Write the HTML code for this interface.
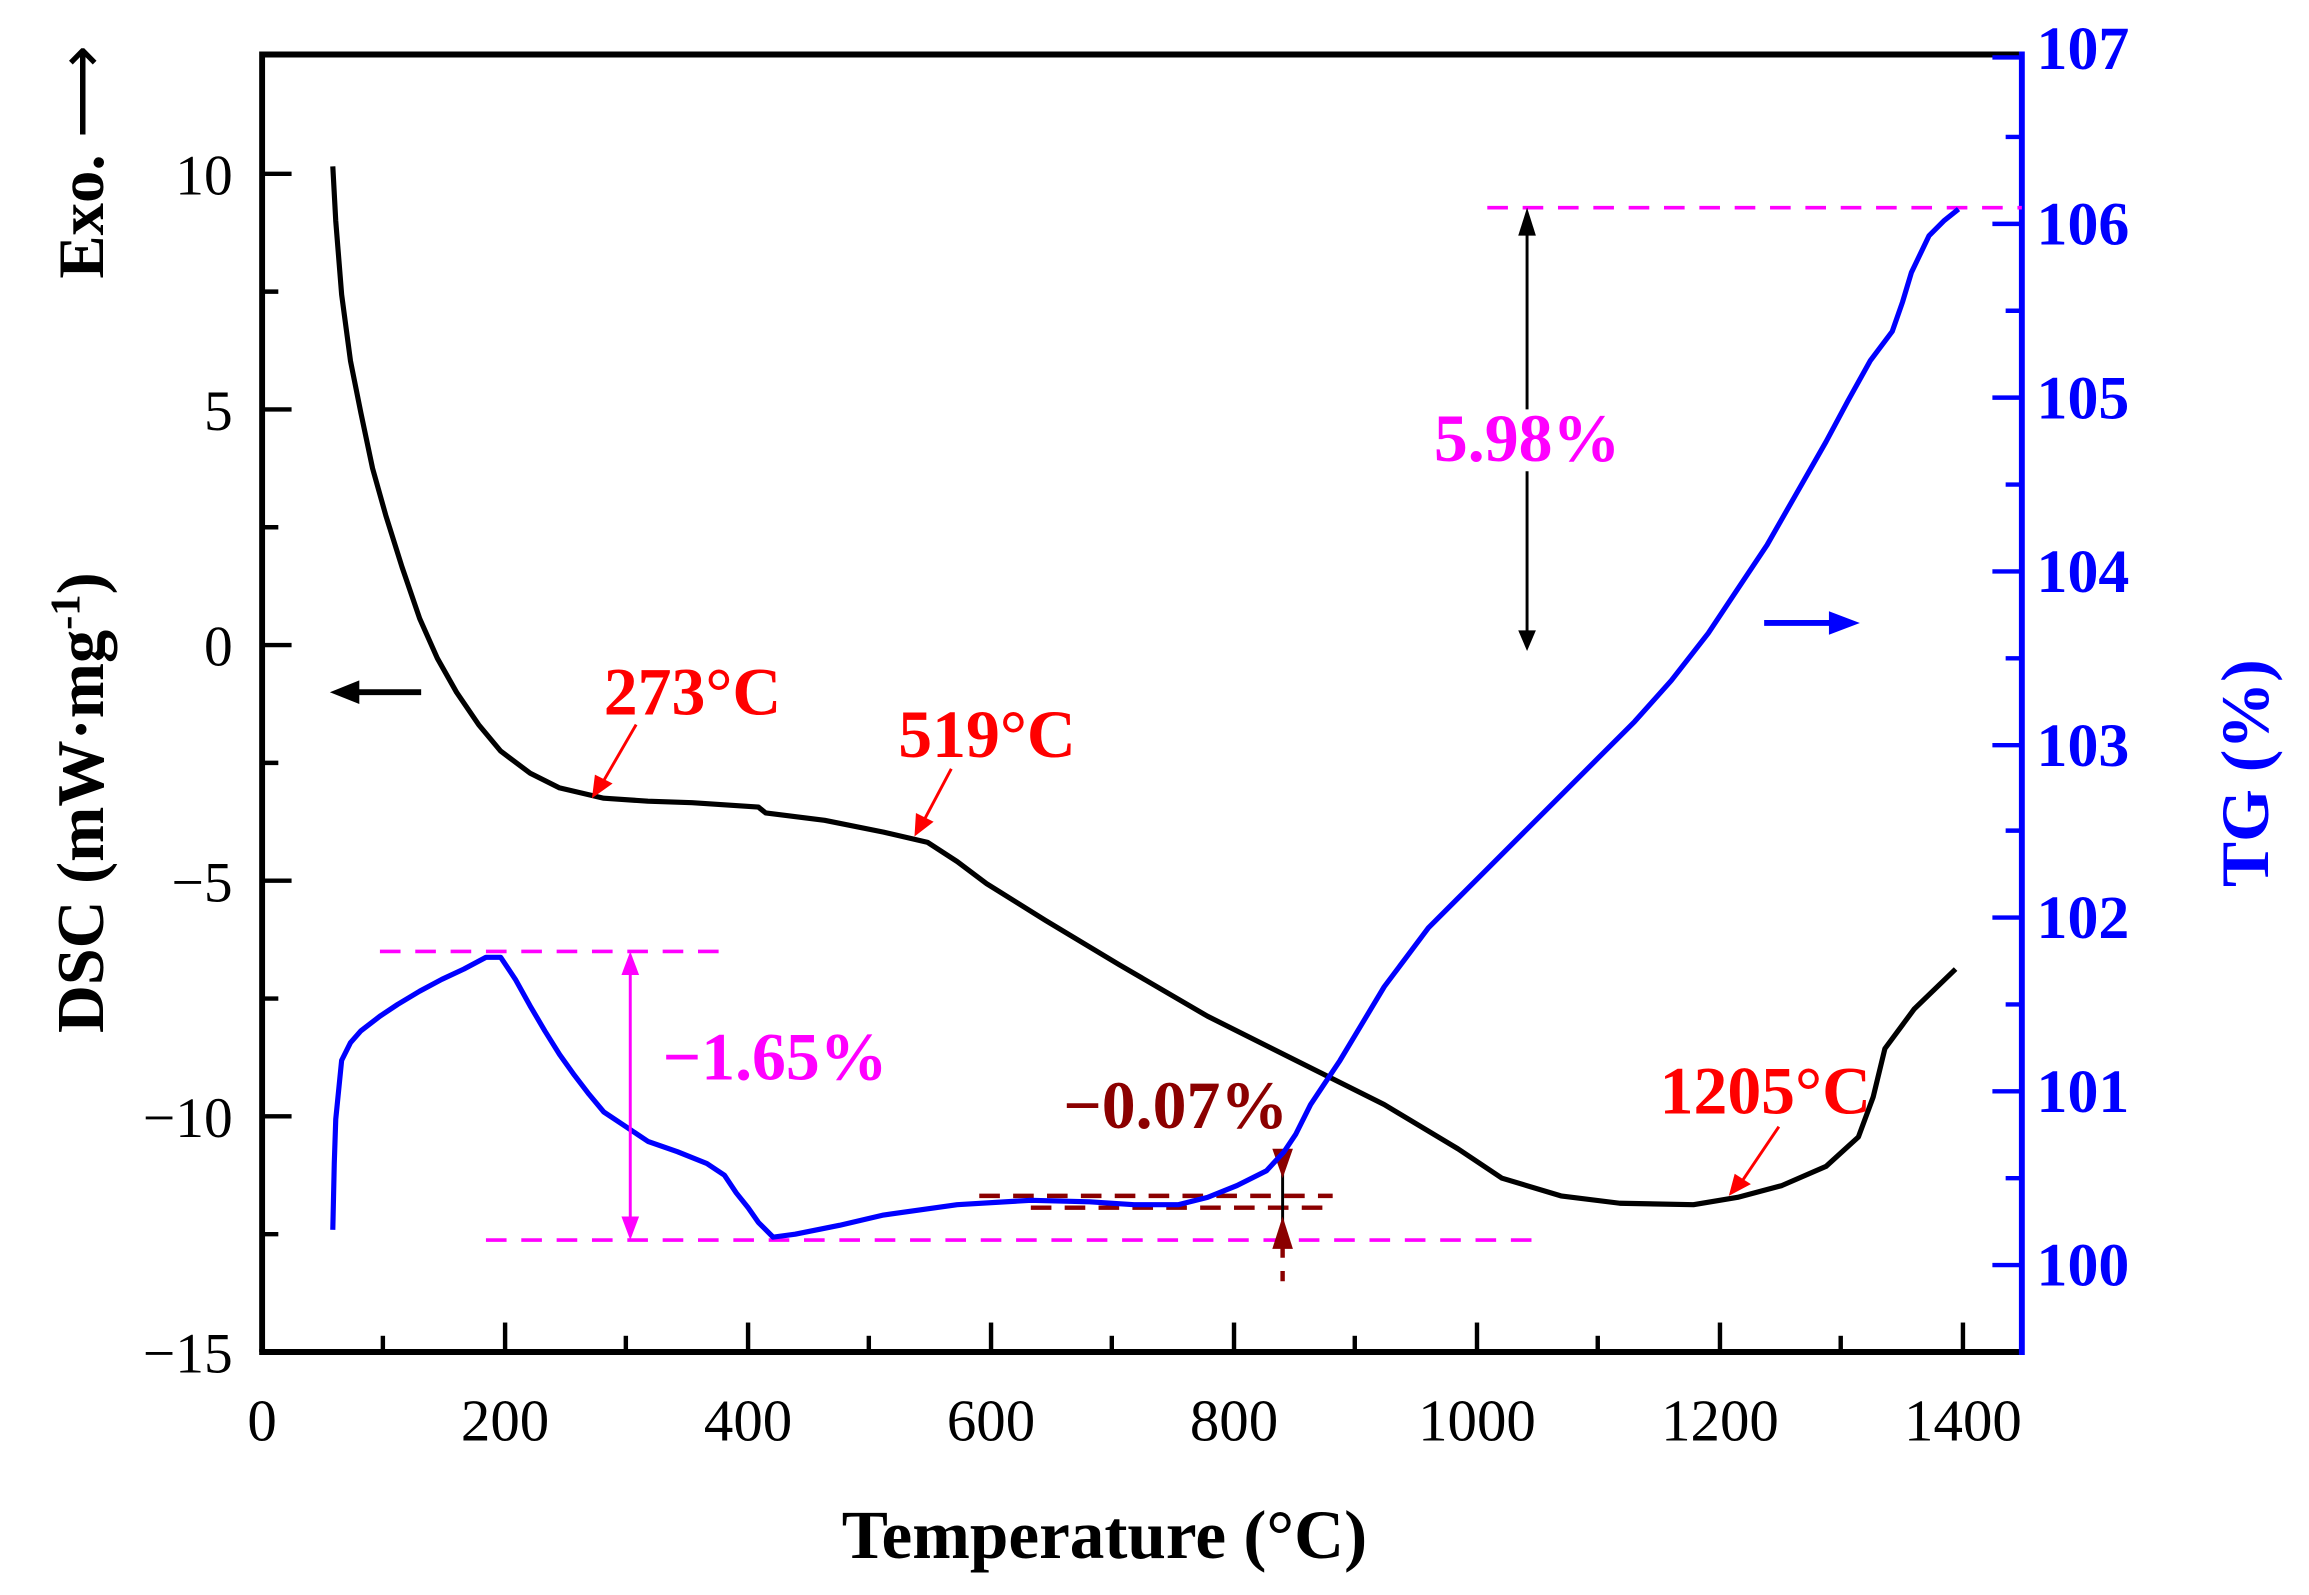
<!DOCTYPE html>
<html><head><meta charset="utf-8"><style>html,body{margin:0;padding:0;background:#fff}svg{display:block}</style></head>
<body>
<svg width="2309" height="1595" viewBox="0 0 1568 1083" preserveAspectRatio="none" xmlns="http://www.w3.org/2000/svg" font-family="'Liberation Serif', serif">
<rect width="1568" height="1083" fill="#fff"/>
<path d="M178,918 L178,37 L1373,37" fill="none" stroke="#000" stroke-width="4"/>
<line x1="176" y1="918" x2="1373" y2="918" stroke="#000" stroke-width="4"/>
<line x1="1373" y1="35" x2="1373" y2="920" stroke="#0000ff" stroke-width="4"/>
<g stroke="#000" stroke-width="3">
<line x1="178" y1="118" x2="198" y2="118"/><line x1="178" y1="278" x2="198" y2="278"/><line x1="178" y1="438" x2="198" y2="438"/><line x1="178" y1="598" x2="198" y2="598"/><line x1="178" y1="758" x2="198" y2="758"/>
<line x1="178" y1="198" x2="189" y2="198"/><line x1="178" y1="358" x2="189" y2="358"/><line x1="178" y1="518" x2="189" y2="518"/><line x1="178" y1="678" x2="189" y2="678"/><line x1="178" y1="838" x2="189" y2="838"/>
<line x1="343" y1="918" x2="343" y2="898"/><line x1="508" y1="918" x2="508" y2="898"/><line x1="673" y1="918" x2="673" y2="898"/><line x1="838" y1="918" x2="838" y2="898"/><line x1="1003" y1="918" x2="1003" y2="898"/><line x1="1168" y1="918" x2="1168" y2="898"/><line x1="1333" y1="918" x2="1333" y2="898"/>
<line x1="260" y1="918" x2="260" y2="907"/><line x1="425" y1="918" x2="425" y2="907"/><line x1="590" y1="918" x2="590" y2="907"/><line x1="755" y1="918" x2="755" y2="907"/><line x1="920" y1="918" x2="920" y2="907"/><line x1="1085" y1="918" x2="1085" y2="907"/><line x1="1250" y1="918" x2="1250" y2="907"/>
</g>
<g stroke="#0000ff" stroke-width="3">
<line x1="1373" y1="859" x2="1353" y2="859"/><line x1="1373" y1="741" x2="1353" y2="741"/><line x1="1373" y1="623" x2="1353" y2="623"/><line x1="1373" y1="506" x2="1353" y2="506"/><line x1="1373" y1="388" x2="1353" y2="388"/><line x1="1373" y1="270" x2="1353" y2="270"/><line x1="1373" y1="152" x2="1353" y2="152"/><line x1="1373" y1="39" x2="1353" y2="39"/>
<line x1="1373" y1="800" x2="1362" y2="800"/><line x1="1373" y1="682" x2="1362" y2="682"/><line x1="1373" y1="564" x2="1362" y2="564"/><line x1="1373" y1="447" x2="1362" y2="447"/><line x1="1373" y1="329" x2="1362" y2="329"/><line x1="1373" y1="211" x2="1362" y2="211"/><line x1="1373" y1="93" x2="1362" y2="93"/>
</g>
<g font-size="39" fill="#000" text-anchor="end">
<text x="158" y="132">10</text><text x="158" y="292">5</text><text x="158" y="452">0</text><text x="158" y="612">−5</text><text x="158" y="772">−10</text><text x="158" y="932">−15</text>
</g>
<g font-size="40" fill="#000" text-anchor="middle">
<text x="178" y="978">0</text><text x="343" y="978">200</text><text x="508" y="978">400</text><text x="673" y="978">600</text><text x="838" y="978">800</text><text x="1003" y="978">1000</text><text x="1168" y="978">1200</text><text x="1333" y="978">1400</text>
</g>
<g font-size="42" font-weight="bold" fill="#0000ff">
<text x="1383" y="873">100</text><text x="1383" y="755">101</text><text x="1383" y="637">102</text><text x="1383" y="520">103</text><text x="1383" y="402">104</text><text x="1383" y="284">105</text><text x="1383" y="166">106</text><text x="1383" y="47">107</text>
</g>
<text x="750" y="1058" font-size="47" font-weight="bold" text-anchor="middle">Temperature (°C)</text>
<text transform="translate(70,545) rotate(-90)" font-size="45" font-weight="bold" text-anchor="middle">DSC (mW·mg<tspan dy="-16" font-size="29">-1</tspan><tspan dy="16">)</tspan></text>
<text transform="translate(70,110) rotate(-90)" font-size="44" font-weight="bold" text-anchor="middle">Exo. <tspan font-weight="normal">⟶</tspan></text>
<text transform="translate(1540,525) rotate(-90)" font-size="46" font-weight="bold" fill="#0000ff" text-anchor="middle">TG (%)</text>
<g stroke="#ff00ff" stroke-width="2.5" stroke-dasharray="14,10" fill="none">
<line x1="1010" y1="141" x2="1373" y2="141"/>
<line x1="258" y1="646" x2="497" y2="646"/>
<line x1="330" y1="842" x2="1045" y2="842"/>
</g>
<g stroke="#8b0000" stroke-width="3" stroke-dasharray="14,9" fill="none">
<line x1="665" y1="812" x2="905" y2="812"/>
<line x1="700" y1="820" x2="905" y2="820"/>
<line x1="871" y1="840" x2="871" y2="870"/>
</g>
<line x1="871" y1="785" x2="871" y2="845" stroke="#000" stroke-width="2"/>
<polygon points="864,780 878,780 871,800" fill="#8b0000"/>
<polygon points="864,848 878,848 871,826" fill="#8b0000"/>
<polyline fill="none" stroke="#000" stroke-width="3.5" stroke-linejoin="round" points="226,113 228,150 232,200 238,245 245,280 253,318 262,350 273,385 285,420 297,447 310,470 325,492 340,510 360,525 380,535 410,542 440,544 470,545 515,548 520,552 560,557 600,565 630,572 650,585 670,600 710,625 760,655 820,690 880,720 940,750 990,780 1020,800 1060,812 1100,817 1150,818 1180,813 1210,805 1240,792 1262,772 1272,745 1280,712 1300,685 1328,658"/>
<polyline fill="none" stroke="#0000ff" stroke-width="3.5" stroke-linejoin="round" points="226,835 227,790 228,760 232,720 238,708 245,700 258,690 270,682 285,673 300,665 315,658 330,650 340,650 350,665 360,683 370,700 380,716 390,730 400,743 410,755 425,765 440,775 460,782 480,790 492,798 500,810 508,820 515,830 525,840 540,838 570,832 600,825 650,818 700,815 740,816 770,818 800,818 820,813 840,805 860,795 872,782 880,770 890,750 900,735 910,720 925,695 940,670 955,650 970,630 990,610 1010,590 1035,565 1060,540 1085,515 1110,490 1135,462 1160,430 1180,400 1200,370 1220,335 1240,300 1255,272 1270,245 1285,225 1292,205 1298,185 1310,160 1320,150 1330,142"/>
<g stroke="#000" stroke-width="2" fill="#000">
<line x1="1037" y1="150" x2="1037" y2="278"/><line x1="1037" y1="320" x2="1037" y2="432"/>
<polygon points="1031,160 1043,160 1037,141" stroke="none"/>
<polygon points="1031,428 1043,428 1037,442" stroke="none"/>
</g>
<g stroke="#ff00ff" stroke-width="2" fill="#ff00ff">
<line x1="428" y1="655" x2="428" y2="832"/>
<polygon points="422,662 434,662 428,646" stroke="none"/>
<polygon points="422,826 434,826 428,842" stroke="none"/>
</g>
<line x1="286" y1="470" x2="240" y2="470" stroke="#000" stroke-width="4"/>
<polygon points="244,462 244,478 224,470" fill="#000"/>
<line x1="1198" y1="423" x2="1245" y2="423" stroke="#0000ff" stroke-width="4"/>
<polygon points="1242,415 1242,431 1263,423" fill="#0000ff"/>
<g stroke="#ff0000" stroke-width="2" fill="#ff0000">
<line x1="432" y1="492" x2="410" y2="530"/><polygon points="402,542 404,526 416,532" stroke="none"/>
<line x1="646" y1="522" x2="628" y2="556"/><polygon points="621,568 622,552 634,558" stroke="none"/>
<line x1="1208" y1="765" x2="1183" y2="802"/><polygon points="1174,812 1178,797 1189,804" stroke="none"/>
</g>
<g font-weight="bold" font-size="46">
<text x="1037" y="313" fill="#ff00ff" text-anchor="middle">5.98%</text>
<text x="450" y="733" fill="#ff00ff">−1.65%</text>
<text x="722" y="766" fill="#8b0000">−0.07%</text>
<text x="410" y="485" fill="#ff0000">273°C</text>
<text x="610" y="514" fill="#ff0000">519°C</text>
<text x="1127" y="756" fill="#ff0000">1205°C</text>
</g>
</svg>
</body></html>
